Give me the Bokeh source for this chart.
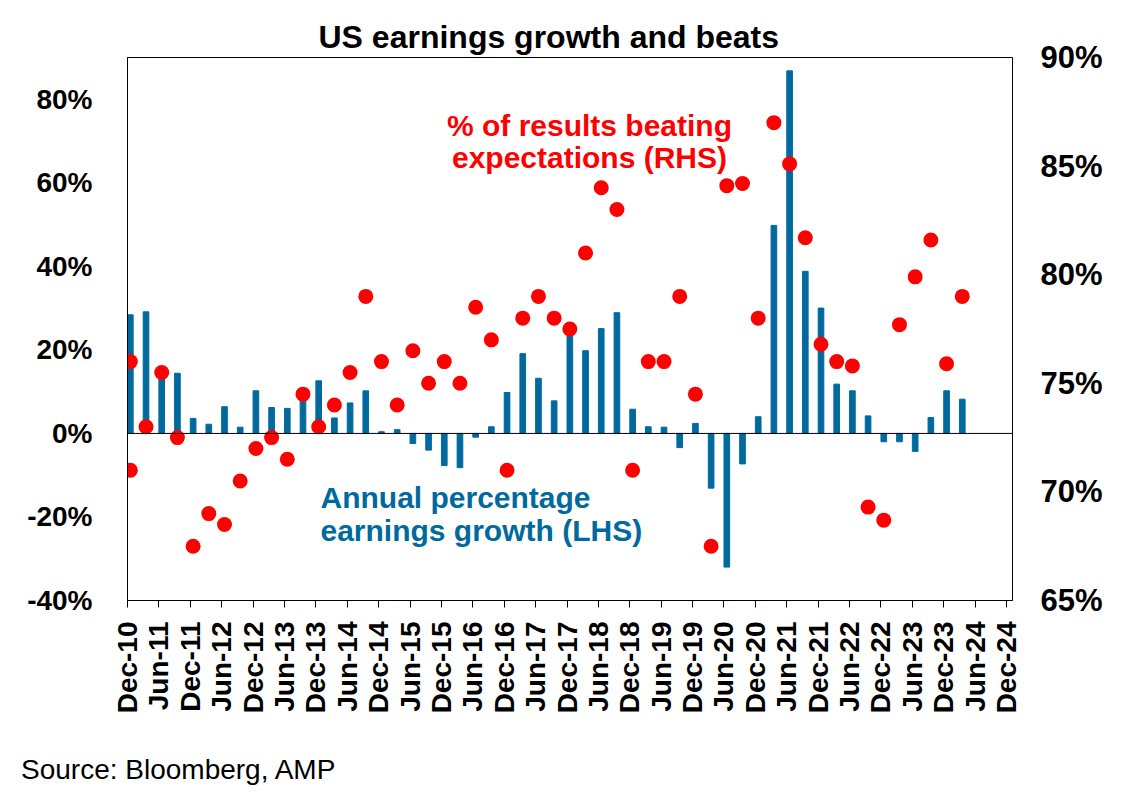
import pandas as pd
from bokeh.plotting import figure
from bokeh.layouts import column
from bokeh.models import (Range1d, LinearAxis, FixedTicker, PrintfTickFormatter,
                          Span, Label, Title, ColumnDataSource, Div)
from bokeh.embed import file_html
from bokeh.resources import INLINE

# ---------------- data ----------------
quarters = [d.strftime("%b-%y") for d in pd.date_range("2010-12-01", periods=54, freq="3MS")]

earnings_growth = [28.4, 29.1, 14.0, 14.4, 3.6, 2.2, 6.4, 1.5, 10.2, 6.2,
                   6.0, 8.5, 12.6, 3.7, 7.3, 10.2, 0.4, 0.9, -2.4, -4.0,
                   -7.7, -8.2, -0.9, 1.6, 9.8, 19.1, 13.2, 7.8, 24.2, 19.8,
                   25.1, 28.9, 5.8, 1.6, 1.5, -3.4, 2.4, -13.1, -32.0, -7.3,
                   4.0, 49.8, 86.8, 38.8, 30.0, 11.8, 10.2, 4.2, -2.0, -2.0,
                   -4.3, 3.8, 10.2, 8.2]

# first two beat readings both sit at Dec-10
beat_quarters = [quarters[0], quarters[0]] + quarters[1:]
beats_pct = [76.0, 71.0, 73.0, 75.5, 72.5, 67.5, 69.0, 68.5, 70.5, 72.0,
             72.5, 71.5, 74.5, 73.0, 74.0, 75.5, 79.0, 76.0, 74.0, 76.5,
             75.0, 76.0, 75.0, 78.5, 77.0, 71.0, 78.0, 79.0, 78.0, 77.5,
             81.0, 84.0, 83.0, 71.0, 76.0, 76.0, 79.0, 74.5, 67.5, 84.1,
             84.2, 78.0, 87.0, 85.1, 81.7, 76.8, 76.0, 75.8, 69.3, 68.7,
             77.7, 79.9, 81.6, 75.9, 79.0]

tick_labels = ["Dec-10", "Jun-11", "Dec-11", "Jun-12", "Dec-12", "Jun-13", "Dec-13",
               "Jun-14", "Dec-14", "Jun-15", "Dec-15", "Jun-16", "Dec-16", "Jun-17",
               "Dec-17", "Jun-18", "Dec-18", "Jun-19", "Dec-19", "Jun-20", "Dec-20",
               "Jun-21", "Dec-21", "Jun-22", "Dec-22", "Jun-23", "Dec-23", "Jun-24",
               "Dec-24"]
left_ticks = [-40, -20, 0, 20, 40, 60, 80]
right_ticks = [65, 70, 75, 80, 85, 90]

# ---------------- styles ----------------
BLUE = "#006A9E"
RED = "#FF0000"
FONT = "Liberation Sans"
BAR_W = 0.36
OFF = BAR_W / 2

qidx = {q: i for i, q in enumerate(quarters)}
bar_src = ColumnDataSource(dict(x=[qidx[q] + OFF for q in quarters], top=earnings_growth))
dot_src = ColumnDataSource(dict(x=[qidx[q] + OFF for q in beat_quarters], y=beats_pct))

p = figure(width=1125, height=740, output_backend="svg", toolbar_location=None,
           x_range=Range1d(0, 56.38), y_range=Range1d(-40, 90),
           min_border_left=127, min_border_right=113, min_border_top=57,
           min_border_bottom=140)
p.extra_y_ranges = {"right": Range1d(65, 90)}

p.title = Title(text="US earnings growth and beats", align="left", offset=191,
                text_font=FONT, text_font_size="32px", text_font_style="bold",
                text_color="black", standoff=6)

p.vbar(x="x", top="top", bottom=0, width=BAR_W, color=BLUE, source=bar_src)
p.scatter(x="x", y="y", size=15, fill_color=RED, line_color=None,
          y_range_name="right", source=dot_src)

p.add_layout(Span(location=0, dimension="width", line_color="black", line_width=1))

p.xgrid.visible = False
p.ygrid.visible = False
p.outline_line_color = "black"
p.outline_line_width = 1
p.background_fill_color = "white"
p.border_fill_color = "white"

# x axis
xa = p.xaxis[0]
xa.ticker = FixedTicker(ticks=[2 * i for i in range(len(tick_labels))])
xa.major_label_overrides = {2 * i: t for i, t in enumerate(tick_labels)}
xa.major_label_orientation = 3.14159265 / 2
xa.minor_tick_line_color = None
xa.major_tick_out = 7
xa.major_tick_in = 0
xa.major_label_standoff = 14
xa.major_label_text_font = FONT
xa.major_label_text_font_style = "bold"
xa.major_label_text_font_size = "28px"
xa.major_label_text_color = "black"
xa.axis_line_color = "black"

# left axis
ya = p.yaxis[0]
ya.ticker = FixedTicker(ticks=left_ticks)
ya.formatter = PrintfTickFormatter(format="%d%%")
ya.major_tick_line_color = None
ya.minor_tick_line_color = None
ya.major_tick_out = 0
ya.major_tick_in = 0
ya.major_label_standoff = 35
ya.major_label_text_font = FONT
ya.major_label_text_font_style = "bold"
ya.major_label_text_font_size = "28px"
ya.major_label_text_color = "black"
ya.axis_line_color = "black"

# right axis
ra = LinearAxis(y_range_name="right", ticker=FixedTicker(ticks=right_ticks),
                formatter=PrintfTickFormatter(format="%d%%"))
ra.major_tick_line_color = None
ra.minor_tick_line_color = None
ra.major_tick_out = 0
ra.major_tick_in = 0
ra.axis_line_color = None
ra.major_label_standoff = 28
ra.major_label_text_font = FONT
ra.major_label_text_font_style = "bold"
ra.major_label_text_font_size = "31px"
ra.major_label_text_color = "black"
p.add_layout(ra, "right")

def lab(text, x, y, color, align):
    p.add_layout(Label(x=x, y=y, x_units="screen", y_units="screen", text=text,
                       text_color=color, text_font=FONT, text_font_size="30px",
                       text_font_style="bold", text_align=align,
                       text_baseline="middle"))

# notes (screen units, relative to the plot frame)
lab("% of results beating", 462, 475, RED, "center")
lab("expectations (RHS)", 462, 443, RED, "center")
lab("Annual percentage", 193, 103, BLUE, "left")
lab("earnings growth (LHS)", 193, 70, BLUE, "left")

source = Div(text="Source: Bloomberg, AMP", width=600, height=40,
             margin=(14, 0, 0, 21),
             styles={"font-family": FONT, "font-size": "28px", "color": "black",
                     "line-height": "32px", "white-space": "nowrap"})

layout = column(p, source, spacing=0)
open("out.html", "w").write(file_html(layout, INLINE))
